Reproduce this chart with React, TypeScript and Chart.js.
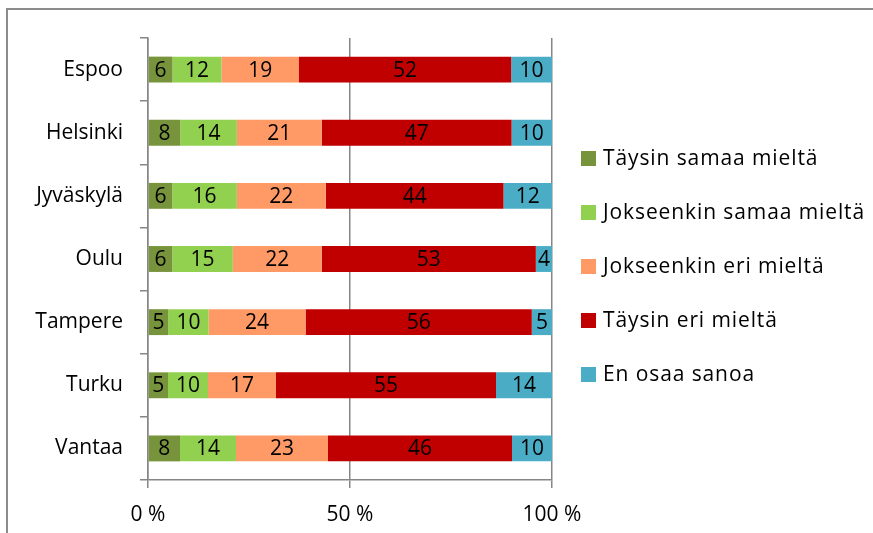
import React, { useEffect, useRef } from "react";
import { Chart, registerables } from "chart.js";

Chart.register(...registerables);

const categories = ["Espoo", "Helsinki", "Jyväskylä", "Oulu", "Tampere", "Turku", "Vantaa"];
const seriesNames = [
  "Täysin samaa mieltä",
  "Jokseenkin samaa mieltä",
  "Jokseenkin eri mieltä",
  "Täysin eri mieltä",
  "En osaa sanoa",
];
const taysinSamaa = [6, 8, 6, 6, 5, 5, 8];
const jokseenkinSamaa = [12, 14, 16, 15, 10, 10, 14];
const jokseenkinEri = [19, 21, 22, 22, 24, 17, 23];
const taysinEri = [52, 47, 44, 53, 56, 55, 46];
const enOsaa = [10, 10, 12, 4, 5, 14, 10];
const seriesColors = ["#77933C", "#92D050", "#FF9966", "#C00000", "#4BACC6"];
const xTickValues = [0, 50, 100];
const xTickLabels = ["0 %", "50 %", "100 %"];

const FONT = "'Open Sans'";
const FS = 21;
const GRID = "#868686";

export default function App() {
  const ref = useRef<HTMLCanvasElement | null>(null);

  useEffect(() => {
    const canvas = ref.current;
    if (!canvas) return;
    const series = [taysinSamaa, jokseenkinSamaa, jokseenkinEri, taysinEri, enOsaa];
    const totals = categories.map((_, i) => series.reduce((s, arr) => s + arr[i], 0));

    const frame = {
      id: "frame",
      beforeDraw(chart: any) {
        const ctx = chart.ctx;
        ctx.save();
        ctx.fillStyle = "#ffffff";
        ctx.fillRect(0, 0, chart.width, chart.height);
        ctx.strokeStyle = "#8c8c8c";
        ctx.lineWidth = 2;
        ctx.beginPath();
        ctx.moveTo(7, chart.height);
        ctx.lineTo(7, 9);
        ctx.lineTo(chart.width, 9);
        ctx.stroke();
        ctx.restore();
      },
    };

    const labels = {
      id: "barLabels",
      afterDatasetsDraw(chart: any) {
        const ctx = chart.ctx;
        ctx.save();
        ctx.font = `${FS}px ${FONT}`;
        ctx.fillStyle = "#000000";
        ctx.textAlign = "center";
        ctx.textBaseline = "middle";
        chart.data.datasets.forEach((ds: any, di: number) => {
          const meta = chart.getDatasetMeta(di);
          meta.data.forEach((bar: any, i: number) => {
            const cx = (bar.x + bar.base) / 2;
            ctx.fillText(String(ds.rawValues[i]), cx, bar.y + 1);
          });
        });
        ctx.restore();
      },
    };

    const legend = {
      id: "customLegend",
      afterDraw(chart: any) {
        const ctx = chart.ctx;
        const area = chart.chartArea;
        const n = chart.data.datasets.length;
        const step = 54;
        const x = area.right + 29;
        ctx.save();
        ctx.font = `${FS}px ${FONT}`;
        (ctx as any).letterSpacing = "0.9px";
        ctx.textAlign = "left";
        ctx.textBaseline = "middle";
        chart.data.datasets.forEach((ds: any, i: number) => {
          const cy = chart.height / 2 + (i - (n - 1) / 2) * step;
          ctx.fillStyle = ds.backgroundColor;
          ctx.fillRect(x, cy - 7.5, 15, 15);
          ctx.fillStyle = "#000000";
          ctx.fillText(ds.label, x + 22, cy + 1);
        });
        ctx.restore();
      },
    };

    const chart = new Chart(canvas, {
      type: "bar",
      data: {
        labels: categories,
        datasets: series.map((arr, si) => ({
          label: seriesNames[si],
          data: arr.map((v, i) => (v / totals[i]) * 100),
          rawValues: arr,
          backgroundColor: seriesColors[si],
          borderWidth: 0,
          categoryPercentage: 1,
          barPercentage: 0.41,
        })) as any,
      },
      options: {
        indexAxis: "y",
        responsive: false,
        animation: false,
        events: [],
        layout: { padding: { left: 0, top: 38, right: 321, bottom: 0 } },
        plugins: {
          legend: { display: false },
          tooltip: { enabled: false },
          title: { display: false },
        },
        scales: {
          x: {
            stacked: true,
            min: 0,
            max: 100,
            afterFit(scale: any) {
              scale.height = 53;
            },
            afterBuildTicks(scale: any) {
              scale.ticks = xTickValues.map((v) => ({ value: v }));
            },
            ticks: {
              color: "#000000",
              font: { family: FONT, size: FS },
              padding: 14,
              maxRotation: 0,
              callback: (v: any) => {
                const idx = xTickValues.indexOf(Number(v));
                return idx >= 0 ? xTickLabels[idx] : "";
              },
            },
            grid: {
              color: GRID,
              lineWidth: 1.5,
              tickLength: 8,
              drawTicks: true,
            },
            border: { color: GRID, width: 1.5 },
          },
          y: {
            stacked: true,
            afterFit(scale: any) {
              scale.width = 148;
            },
            ticks: {
              color: "#000000",
              font: { family: FONT, size: FS },
              padding: 17,
            },
            grid: {
              offset: true,
              drawOnChartArea: false,
              color: GRID,
              lineWidth: 1.5,
              tickLength: 8,
            },
            border: { color: GRID, width: 1.5 },
          },
        },
      },
      plugins: [frame, labels, legend],
    });
    return () => chart.destroy();
  }, []);

  return (
    <canvas
      ref={ref}
      width={873}
      height={533}
      style={{ position: "fixed", left: 0, top: 0, display: "block" }}
    />
  );
}
